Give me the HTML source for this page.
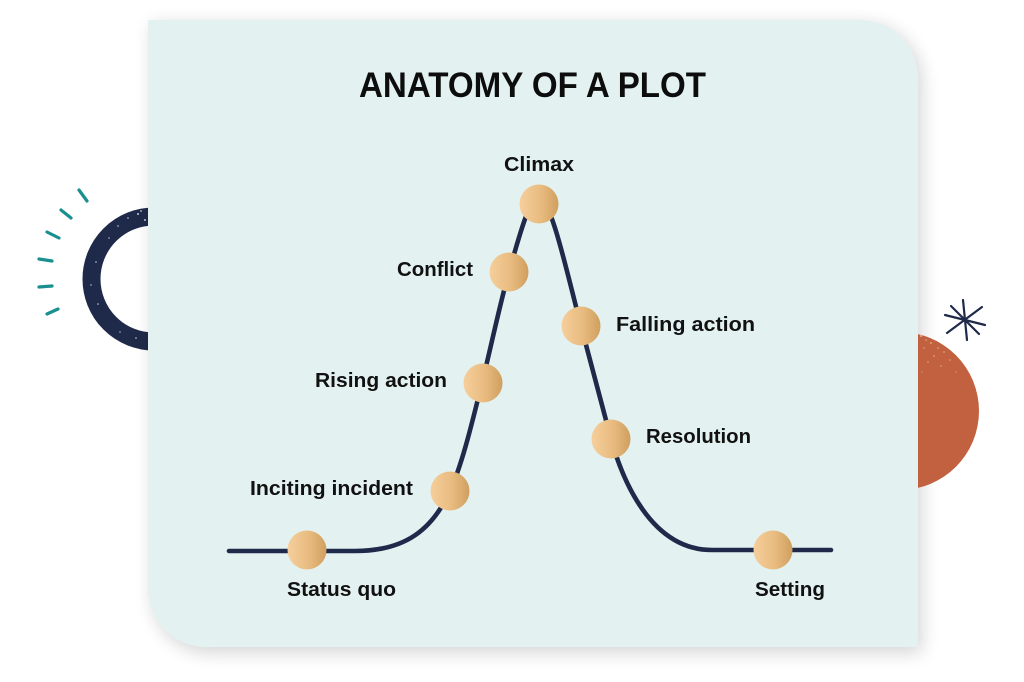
<!DOCTYPE html>
<html>
<head>
<meta charset="utf-8">
<style>
  html, body { margin:0; padding:0; background:#ffffff; }
  body { width:1024px; height:682px; overflow:hidden; }
  svg { display:block; }
  .lbl { font-family:"Liberation Sans", "DejaVu Sans", sans-serif; font-weight:bold; font-size:20px; fill:#111111; }
  .title { font-family:"Liberation Sans", "DejaVu Sans", sans-serif; font-weight:bold; font-size:35px; fill:#0d0d0d; }
</style>
</head>
<body>
<svg width="1024" height="682" viewBox="0 0 1024 682" xmlns="http://www.w3.org/2000/svg">
  <defs>
    <filter id="sh" x="-10%" y="-10%" width="120%" height="120%">
      <feGaussianBlur stdDeviation="9"/>
    </filter>
    <linearGradient id="gold" x1="0" y1="0" x2="1" y2="0">
      <stop offset="0" stop-color="#f6cf9b"/>
      <stop offset="0.55" stop-color="#e8bb80"/>
      <stop offset="1" stop-color="#cf9f5e"/>
    </linearGradient>
    <clipPath id="rightclip"><rect x="918" y="0" width="120" height="682"/></clipPath>
  </defs>

  <!-- teal dashes -->
  <g stroke="#1a8f8f" stroke-width="3.2" stroke-linecap="round">
    <line x1="79" y1="190" x2="87" y2="201"/>
    <line x1="61" y1="210" x2="71" y2="218"/>
    <line x1="47" y1="232" x2="59" y2="238"/>
    <line x1="39" y1="259" x2="52" y2="261"/>
    <line x1="39" y1="287" x2="52" y2="286"/>
    <line x1="47" y1="314" x2="58" y2="309"/>
  </g>

  <!-- navy ring -->
  <circle cx="154" cy="279" r="62.5" fill="none" stroke="#1f2a4a" stroke-width="18"/>
  <g fill="#ffffff" opacity="0.75">
    <circle cx="138" cy="214" r="1"/><circle cx="128" cy="218" r="0.8"/><circle cx="145" cy="220" r="1"/>
    <circle cx="118" cy="226" r="0.8"/><circle cx="109" cy="238" r="0.7"/><circle cx="96" cy="262" r="0.8"/>
    <circle cx="91" cy="285" r="0.7"/><circle cx="98" cy="304" r="0.8"/><circle cx="120" cy="332" r="0.7"/>
    <circle cx="136" cy="338" r="0.8"/><circle cx="141" cy="211" r="0.9"/>
  </g>

  <!-- card shadow -->
  <path d="M152,24 H862 A58,58 0 0 1 922,82 V653 H210 A58,58 0 0 1 152,595 Z" fill="#000" opacity="0.16" filter="url(#sh)"/>
  <!-- card -->
  <path d="M148,20 H860 A58,58 0 0 1 918,78 V647 H206 A58,58 0 0 1 148,589 Z" fill="#e3f2f1"/>

  <!-- orange half circle -->
  <g clip-path="url(#rightclip)">
    <circle cx="900" cy="411" r="79" fill="#c1613f"/>
    <g fill="#e9c79a" opacity="0.8">
      <circle cx="921" cy="336" r="1"/><circle cx="926" cy="340" r="0.8"/><circle cx="931" cy="343" r="0.9"/>
      <circle cx="938" cy="348" r="0.8"/><circle cx="944" cy="352" r="0.8"/><circle cx="924" cy="348" r="0.7"/>
      <circle cx="934" cy="356" r="0.8"/><circle cx="950" cy="360" r="0.7"/><circle cx="928" cy="362" r="0.7"/>
      <circle cx="941" cy="366" r="0.7"/><circle cx="956" cy="372" r="0.6"/><circle cx="922" cy="372" r="0.6"/>
    </g>
  </g>

  <!-- asterisk -->
  <g stroke="#1f2a4a" stroke-width="2.2" stroke-linecap="round">
    <line x1="963" y1="300" x2="967" y2="340"/>
    <line x1="945" y1="315" x2="985" y2="325"/>
    <line x1="947" y1="333" x2="982" y2="307"/>
    <line x1="951" y1="306" x2="979" y2="334"/>
  </g>

  <!-- title -->
  <text class="title" x="359" y="97" textLength="347" lengthAdjust="spacingAndGlyphs">ANATOMY OF A PLOT</text>

  <!-- curve -->
  <path d="M229,551 H355 C405,551 432,530 450,491 C462,465 472,423 482,383 C491,347 500,303 509,272 C519,237 529,198 539,198 C551,198 567,273 581,326 C591,364 601,401 611,439 C622,478 650,550 712,550 H831"
        fill="none" stroke="#1f2a4a" stroke-width="4.6" stroke-linecap="round" stroke-linejoin="round"/>

  <!-- nodes -->
  <g fill="url(#gold)">
    <circle cx="307" cy="550" r="19.5"/>
    <circle cx="450" cy="491" r="19.5"/>
    <circle cx="483" cy="383" r="19.5"/>
    <circle cx="509" cy="272" r="19.5"/>
    <circle cx="539" cy="204" r="19.5"/>
    <circle cx="581" cy="326" r="19.5"/>
    <circle cx="611" cy="439" r="19.5"/>
    <circle cx="773" cy="550" r="19.5"/>
  </g>

  <!-- labels -->
  <text class="lbl" x="504" y="171" textLength="70" lengthAdjust="spacingAndGlyphs">Climax</text>
  <text class="lbl" x="397" y="276" textLength="76" lengthAdjust="spacingAndGlyphs">Conflict</text>
  <text class="lbl" x="616" y="331" textLength="139" lengthAdjust="spacingAndGlyphs">Falling action</text>
  <text class="lbl" x="315" y="387" textLength="132" lengthAdjust="spacingAndGlyphs">Rising action</text>
  <text class="lbl" x="646" y="443" textLength="105" lengthAdjust="spacingAndGlyphs">Resolution</text>
  <text class="lbl" x="250" y="495" textLength="163" lengthAdjust="spacingAndGlyphs">Inciting incident</text>
  <text class="lbl" x="287" y="596" textLength="109" lengthAdjust="spacingAndGlyphs">Status quo</text>
  <text class="lbl" x="755" y="596" textLength="70" lengthAdjust="spacingAndGlyphs">Setting</text>
</svg>
</body>
</html>
